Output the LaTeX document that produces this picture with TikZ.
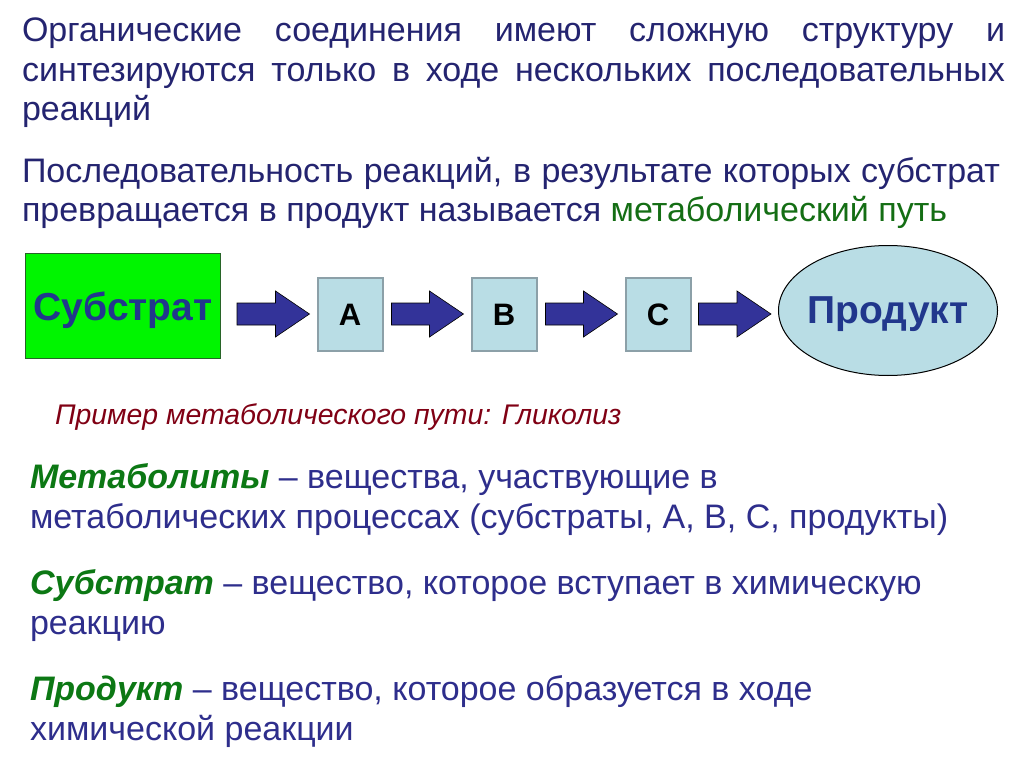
\documentclass[tikz,border=0pt]{standalone}
\usepackage{fontspec}
\setmainfont{Liberation Sans}
\usetikzlibrary{calc,shapes.geometric}
\definecolor{navy}{RGB}{36,36,112}
\definecolor{defblue}{RGB}{46,46,140}
\definecolor{termgreen}{RGB}{12,120,20}
\definecolor{pathgreen}{RGB}{20,110,20}
\definecolor{exred}{RGB}{128,0,20}
\definecolor{boxgreen}{RGB}{0,245,0}
\definecolor{boxgreenb}{RGB}{40,100,40}
\definecolor{lightcyan}{RGB}{185,221,229}
\definecolor{boxgray}{RGB}{140,160,168}
\definecolor{arrowfill}{RGB}{51,51,153}
\definecolor{labelblue}{RGB}{33,55,140}
\newcommand\topfont{\fontsize{34}{40}\selectfont}
\newcommand\deffont{\fontsize{34}{40}\selectfont}
\newcommand\topline[2]{\makebox[#1][s]{#2}}
\newcommand\barrow[3]{\filldraw[fill=arrowfill,draw=black,line width=0.6pt]
  let \p1=(#1.east), \p2=(#2.west), \p3=(axis) in
  (\x1+#3,\y3+11pt) -- (\x2-41pt,\y3+11pt) -- (\x2-41pt,\y3+23pt) --
  (\x2-7pt,\y3) -- (\x2-41pt,\y3-23pt) -- (\x2-41pt,\y3-11pt) --
  (\x1+#3,\y3-11pt) -- cycle;}
\tikzset{
  txt/.style={anchor=base west,inner sep=0pt,outer sep=0pt},
  sqbox/.style={draw=boxgray,line width=2pt,fill=lightcyan,minimum width=65pt,
    minimum height=73pt,inner sep=0pt,font=\fontsize{31}{32}\selectfont\bfseries},
}
\begin{document}
\begin{tikzpicture}[x=1pt,y=-1pt]
\useasboundingbox[fill=white] (0,0) rectangle (1024,767);
% top paragraphs
\node[txt,text=navy,font=\topfont] (t1) at (22,42) {\topline{983pt}{Органические соединения имеют сложную структуру и}};
\node[txt,text=navy,font=\topfont] (t2) at (22,82) {\topline{983pt}{синтезируются только в ходе нескольких последовательных}};
\node[txt,text=navy,font=\topfont] (t3) at (22,121) {реакций};
\node[txt,text=navy,font=\topfont] (t4) at (22,183) {\topline{978pt}{Последовательность реакций, в результате которых субстрат}};
\node[txt,text=navy,font=\topfont] (t5) at (22,222) {превращается в продукт называется \textcolor{pathgreen}{метаболический путь}};
% pathway
\coordinate (axis) at (0,314);
\node[draw=boxgreenb,line width=1pt,fill=boxgreen,minimum width=195pt,minimum height=105pt,inner sep=0pt,
  text depth=0pt,text=labelblue,font=\fontsize{39}{42}\selectfont\bfseries] (subst) at (123,306) {Субстрат};
\node[sqbox] (A) at (350,314.5) {A};
\node[sqbox] (B) at (504,314.5) {B};
\node[sqbox] (C) at (658,314.5) {C};
\node[ellipse,draw=black,line width=1pt,fill=lightcyan,minimum width=219pt,minimum height=130pt,inner sep=0pt,
  text depth=0pt,text=labelblue,font=\fontsize{39}{42}\selectfont\bfseries] (prod) at (888,310.5) {\makebox[100pt][c]{Продукт}};
\barrow{subst}{A}{16pt}
\barrow{A}{B}{8pt}
\barrow{B}{C}{8pt}
\barrow{C}{prod}{7pt}
% example
\node[txt,text=exred,font=\fontsize{28.4}{32}\selectfont\itshape] (ex) at (55,424) {Пример метаболического пути: Гликолиз};
% definitions
\node[txt,text=defblue,font=\deffont] (d1) at (30,488) {\textcolor{termgreen}{\textbf{\textit{Метаболиты}}} – вещества, участвующие в};
\node[txt,text=defblue,font=\deffont] (d2) at (30,528) {метаболических процессах (субстраты, A, B, C, продукты)};
\node[txt,text=defblue,font=\deffont] (d3) at (30,594) {\textcolor{termgreen}{\textbf{\textit{Субстрат}}} – вещество, которое вступает в химическую};
\node[txt,text=defblue,font=\deffont] (d4) at (30,634) {реакцию};
\node[txt,text=defblue,font=\deffont] (d5) at (30,700) {\textcolor{termgreen}{\textbf{\textit{Продукт}}} – вещество, которое образуется в ходе};
\node[txt,text=defblue,font=\deffont] (d6) at (30,740) {химической реакции};
\end{tikzpicture}
\end{document}
